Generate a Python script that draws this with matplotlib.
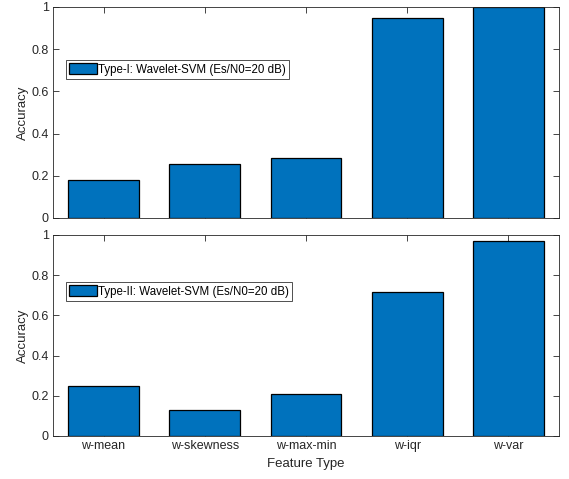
import matplotlib
matplotlib.use("Agg")
import matplotlib.pyplot as plt

plt.rcParams["font.family"] = "sans-serif"
plt.rcParams["font.sans-serif"] = ["Liberation Sans", "DejaVu Sans"]

features = ["w-mean", "w-skewness", "w-max-min", "w-iqr", "w-var"]
acc_type1 = [0.18, 0.254, 0.286, 0.946, 1.0]
acc_type2 = [0.25, 0.128, 0.207, 0.718, 0.97]
labels = ["Type-I: Wavelet-SVM (Es/N0=20 dB)", "Type-II: Wavelet-SVM (Es/N0=20 dB)"]

BLUE = "#0072BD"
AX = "#262626"

fig = plt.figure(figsize=(5.69, 4.79), dpi=100)
ax1 = fig.add_axes([0.0931, 0.5449, 0.8893, 0.4405])
ax2 = fig.add_axes([0.0931, 0.0898, 0.8893, 0.4196])

x = list(range(1, len(features) + 1))
for ax, vals, lab, ly in [(ax1, acc_type1, labels[0], 0.749),
                          (ax2, acc_type2, labels[1], 0.766)]:
    ax.bar(x, vals, width=0.7, color=BLUE, edgecolor="black", linewidth=0.9,
           label=lab, zorder=2)
    ax.set_xlim(0.5, 5.5)
    ax.set_ylim(0, 1)
    ax.set_yticks([0, 0.2, 0.4, 0.6, 0.8, 1])
    ax.set_yticklabels(["0", "0.2", "0.4", "0.6", "0.8", "1"])
    ax.set_xticks(x)
    ax.tick_params(direction="in", length=4, width=0.6, top=True, right=True,
                   colors=AX, labelsize=9, pad=3)
    for s in ax.spines.values():
        s.set_color(AX)
        s.set_linewidth(0.6)
    ax.set_ylabel("Accuracy", fontsize=9.5, color=AX, labelpad=2)
    leg = ax.legend(loc="upper left", bbox_to_anchor=(0.026, ly), fontsize=8.3,
                    frameon=True, fancybox=False, edgecolor="black",
                    handlelength=2.4, handleheight=1.1, handletextpad=0.1,
                    borderpad=0.28, borderaxespad=0)
    leg.get_frame().set_linewidth(0.6)

ax1.set_xticklabels([])
ax2.set_xticklabels(features)
ax2.set_xlabel("Feature Type", fontsize=9.5, color=AX, labelpad=4)

fig.savefig("out.png", dpi=100)
